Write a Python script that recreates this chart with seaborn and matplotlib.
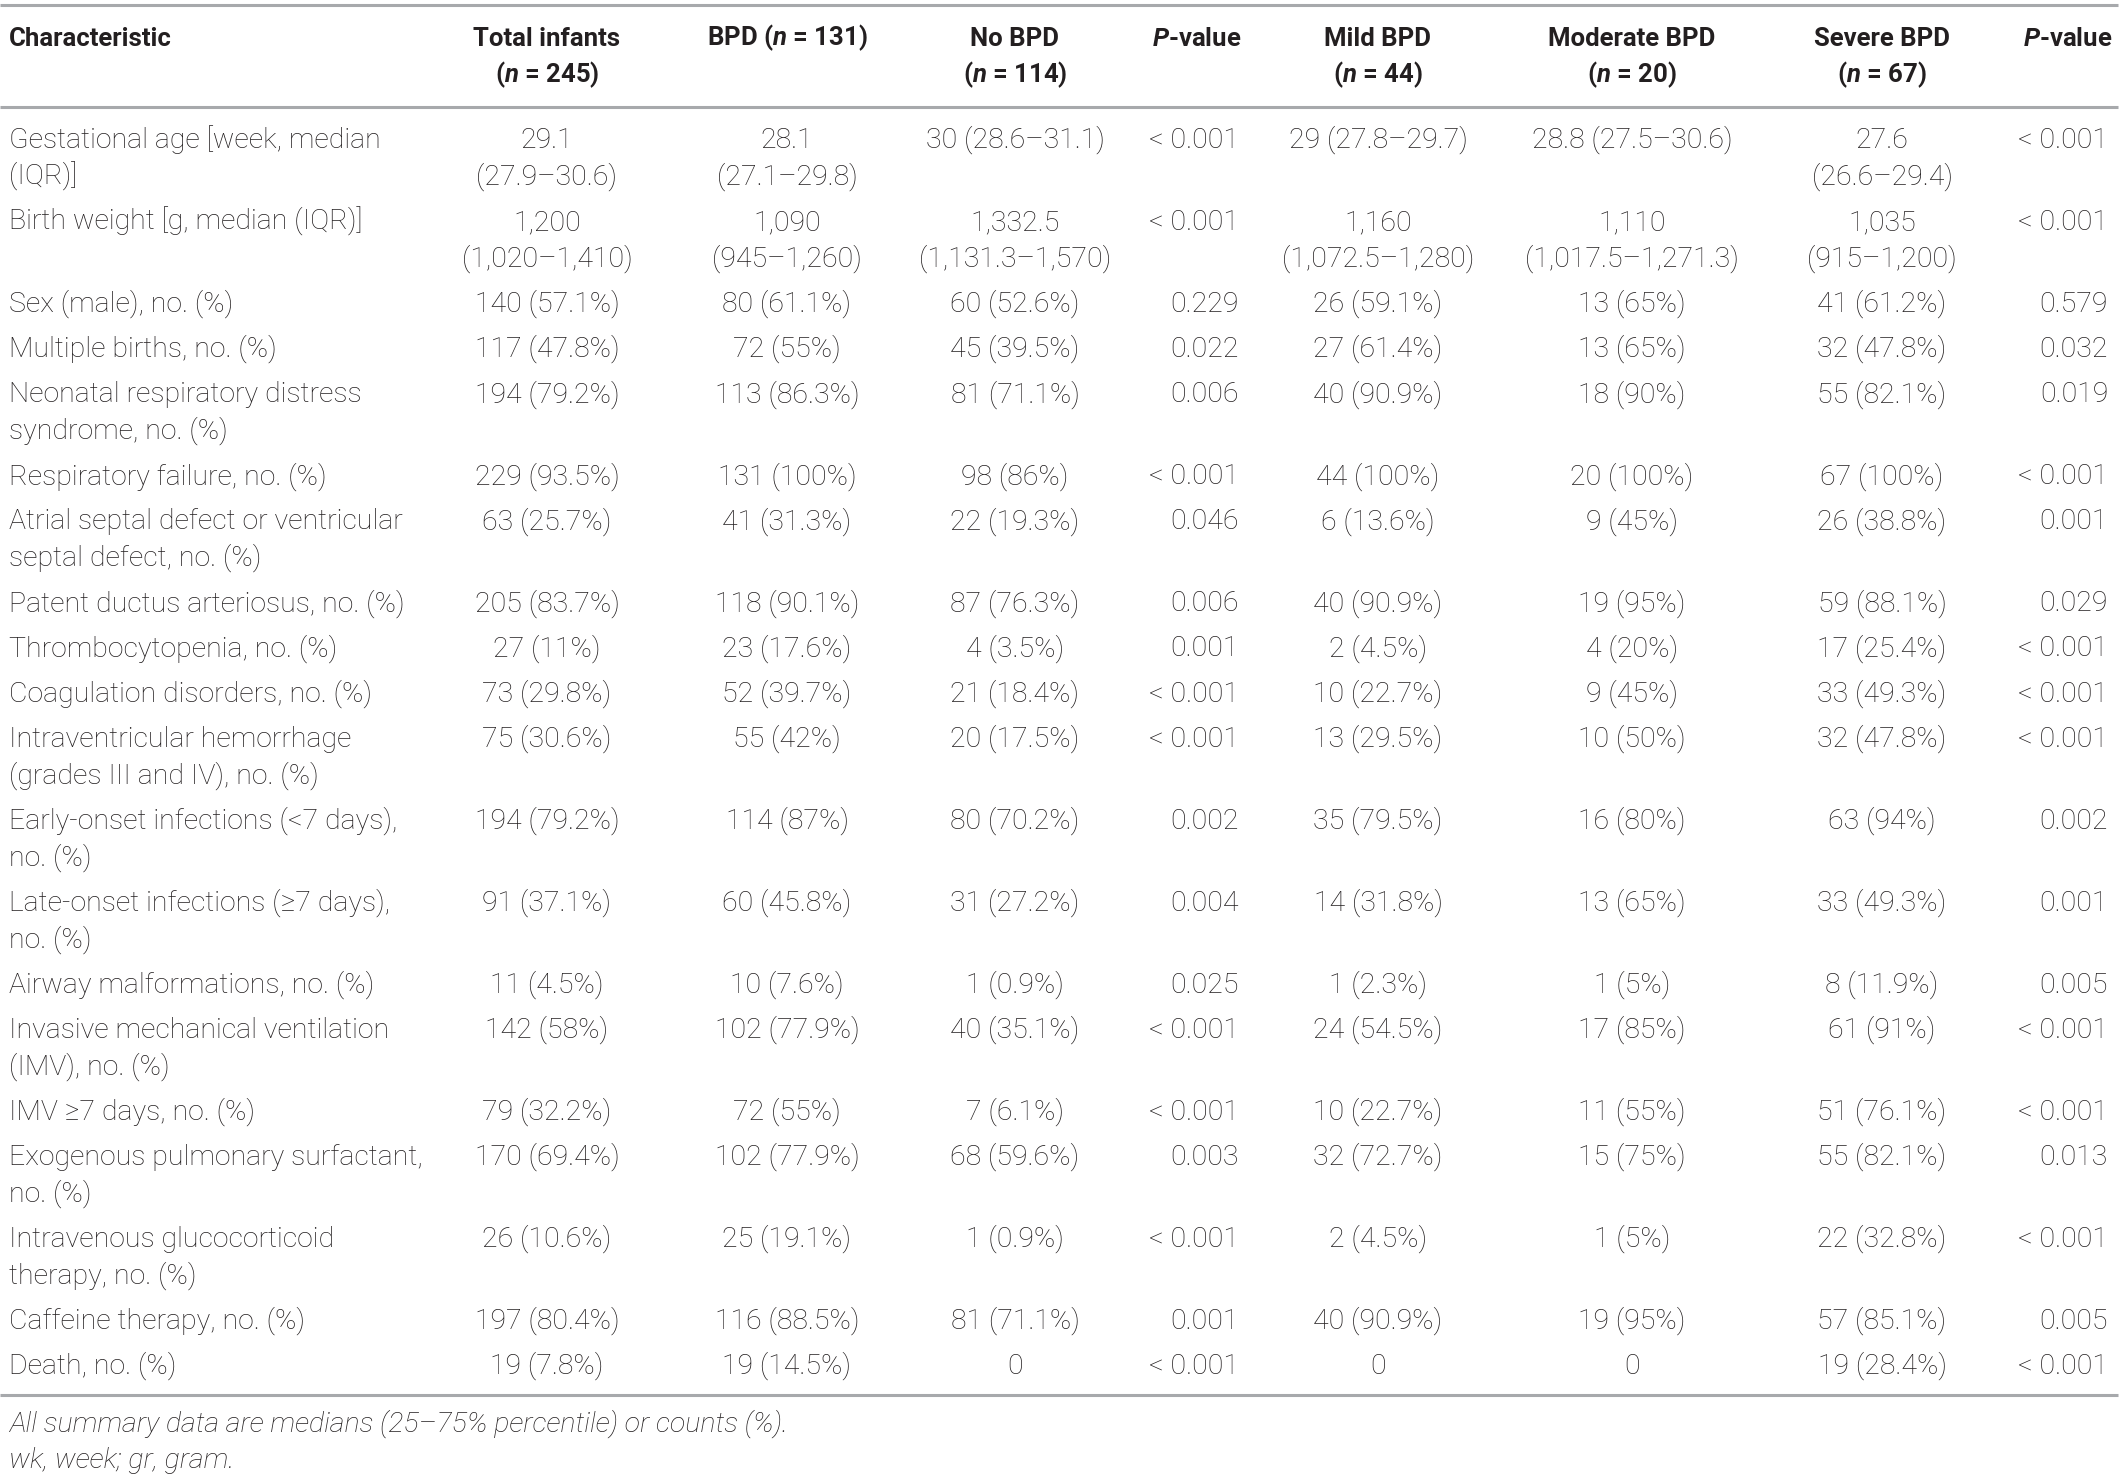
import matplotlib
matplotlib.use("Agg")
import matplotlib.pyplot as plt
import seaborn as sns
from matplotlib import font_manager

# ---- table content ----
header_cols = ["Characteristic", "Total infants\n($n$ = 245)", "BPD ($n$ = 131)",
               "No BPD\n($n$ = 114)", "$P$-value", "Mild BPD\n($n$ = 44)",
               "Moderate BPD\n($n$ = 20)", "Severe BPD\n($n$ = 67)", "$P$-value"]

characteristics = [
    "Gestational age [week, median\n(IQR)]",
    "Birth weight [g, median (IQR)]",
    "Sex (male), no. (%)",
    "Multiple births, no. (%)",
    "Neonatal respiratory distress\nsyndrome, no. (%)",
    "Respiratory failure, no. (%)",
    "Atrial septal defect or ventricular\nseptal defect, no. (%)",
    "Patent ductus arteriosus, no. (%)",
    "Thrombocytopenia, no. (%)",
    "Coagulation disorders, no. (%)",
    "Intraventricular hemorrhage\n(grades III and IV), no. (%)",
    "Early-onset infections (<7 days),\nno. (%)",
    "Late-onset infections (≥7 days),\nno. (%)",
    "Airway malformations, no. (%)",
    "Invasive mechanical ventilation\n(IMV), no. (%)",
    "IMV ≥7 days, no. (%)",
    "Exogenous pulmonary surfactant,\nno. (%)",
    "Intravenous glucocorticoid\ntherapy, no. (%)",
    "Caffeine therapy, no. (%)",
    "Death, no. (%)",
]
total_infants = ["29.1\n(27.9–30.6)", "1,200\n(1,020–1,410)", "140 (57.1%)", "117 (47.8%)",
                 "194 (79.2%)", "229 (93.5%)", "63 (25.7%)", "205 (83.7%)", "27 (11%)",
                 "73 (29.8%)", "75 (30.6%)", "194 (79.2%)", "91 (37.1%)", "11 (4.5%)",
                 "142 (58%)", "79 (32.2%)", "170 (69.4%)", "26 (10.6%)", "197 (80.4%)",
                 "19 (7.8%)"]
bpd = ["28.1\n(27.1–29.8)", "1,090\n(945–1,260)", "80 (61.1%)", "72 (55%)", "113 (86.3%)",
       "131 (100%)", "41 (31.3%)", "118 (90.1%)", "23 (17.6%)", "52 (39.7%)", "55 (42%)",
       "114 (87%)", "60 (45.8%)", "10 (7.6%)", "102 (77.9%)", "72 (55%)", "102 (77.9%)",
       "25 (19.1%)", "116 (88.5%)", "19 (14.5%)"]
no_bpd = ["30 (28.6–31.1)", "1,332.5\n(1,131.3–1,570)", "60 (52.6%)", "45 (39.5%)",
          "81 (71.1%)", "98 (86%)", "22 (19.3%)", "87 (76.3%)", "4 (3.5%)", "21 (18.4%)",
          "20 (17.5%)", "80 (70.2%)", "31 (27.2%)", "1 (0.9%)", "40 (35.1%)", "7 (6.1%)",
          "68 (59.6%)", "1 (0.9%)", "81 (71.1%)", "0"]
p_bpd = ["< 0.001", "< 0.001", "0.229", "0.022", "0.006", "< 0.001", "0.046", "0.006",
         "0.001", "< 0.001", "< 0.001", "0.002", "0.004", "0.025", "< 0.001", "< 0.001",
         "0.003", "< 0.001", "0.001", "< 0.001"]
mild = ["29 (27.8–29.7)", "1,160\n(1,072.5–1,280)", "26 (59.1%)", "27 (61.4%)", "40 (90.9%)",
        "44 (100%)", "6 (13.6%)", "40 (90.9%)", "2 (4.5%)", "10 (22.7%)", "13 (29.5%)",
        "35 (79.5%)", "14 (31.8%)", "1 (2.3%)", "24 (54.5%)", "10 (22.7%)", "32 (72.7%)",
        "2 (4.5%)", "40 (90.9%)", "0"]
moderate = ["28.8 (27.5–30.6)", "1,110\n(1,017.5–1,271.3)", "13 (65%)", "13 (65%)",
            "18 (90%)", "20 (100%)", "9 (45%)", "19 (95%)", "4 (20%)", "9 (45%)", "10 (50%)",
            "16 (80%)", "13 (65%)", "1 (5%)", "17 (85%)", "11 (55%)", "15 (75%)", "1 (5%)",
            "19 (95%)", "0"]
severe = ["27.6\n(26.6–29.4)", "1,035\n(915–1,200)", "41 (61.2%)", "32 (47.8%)", "55 (82.1%)",
          "67 (100%)", "26 (38.8%)", "59 (88.1%)", "17 (25.4%)", "33 (49.3%)", "32 (47.8%)",
          "63 (94%)", "33 (49.3%)", "8 (11.9%)", "61 (91%)", "51 (76.1%)", "55 (82.1%)",
          "22 (32.8%)", "57 (85.1%)", "19 (28.4%)"]
p_severity = ["< 0.001", "< 0.001", "0.579", "0.032", "0.019", "< 0.001", "0.001", "0.029",
              "< 0.001", "< 0.001", "< 0.001", "0.002", "0.001", "0.005", "< 0.001", "< 0.001",
              "0.013", "< 0.001", "0.005", "< 0.001"]
footnotes = ["All summary data are medians (25–75% percentile) or counts (%).",
             "wk, week; gr, gram."]


def pick_font(names):
    installed = {f.name for f in font_manager.fontManager.ttflist}
    for n in names:
        if n in installed:
            return n
    return "DejaVu Sans"


def main():
    sns.set_theme(style="white")
    fam = pick_font(["Roboto", "Liberation Sans", "DejaVu Sans"])
    plt.rcParams["font.family"] = [fam, "DejaVu Sans"]
    plt.rcParams["mathtext.fontset"] = "custom"
    plt.rcParams["mathtext.it"] = f"{fam}:italic:bold"
    plt.rcParams["mathtext.rm"] = f"{fam}:bold"

    W, H = 2123, 1479
    fig = plt.figure(figsize=(W / 100, H / 100), dpi=100)
    ax = fig.add_axes([0, 0, 1, 1])
    ax.set_xlim(0, W)
    ax.set_ylim(H, 0)
    ax.axis("off")

    txt_col = "#231f20"
    rule_col = "#a7a9ac"
    fs_head = 18.5
    fs = 20.5
    base_off = 10  # baseline below visual centre of the line

    # column anchors: (x, ha)
    cols = [(9, "left"), (547, "center"), (787, "center"), (1015, "center"), (1239, "right"),
            (1378, "center"), (1632, "center"), (1882, "center"), (2108, "right")]
    header_x = [9, 547, 787, 1015, 1197, 1378, 1632, 1882, 2068]

    # rules
    ax.hlines([5, 107, 1395], 0, 2118, colors=rule_col, linewidth=2.2)

    # header
    head_y = [36.6, 73]
    for x, label in zip(header_x, header_cols):
        ha = "left" if x == 9 else "center"
        for k, line in enumerate(label.split("\n")):
            ax.text(x, head_y[k] + 9, line, ha=ha, va="baseline", fontsize=fs_head,
                    fontweight="bold", color=txt_col)

    # body
    columns = [characteristics, total_infants, bpd, no_bpd, p_bpd, mild, moderate, severe,
               p_severity]
    line_gap, row_gap = 36.7, 45.2
    y = 138
    for i in range(len(characteristics)):
        cells = [c[i].split("\n") for c in columns]
        nlines = max(len(c) for c in cells)
        for (x, ha), lines in zip(cols, cells):
            for k, line in enumerate(lines):
                ax.text(x, y + k * line_gap + base_off, line, ha=ha, va="baseline",
                        fontsize=fs, fontweight="light", color=txt_col)
        y += (nlines - 1) * line_gap + row_gap

    for k, note in enumerate(footnotes):
        ax.text(9, [1422, 1458][k] + base_off, note, ha="left", va="baseline", fontsize=fs,
                fontweight="light", style="italic", color=txt_col)

    fig.savefig("out.png", dpi=100, facecolor="white")


if __name__ == "__main__":
    main()
